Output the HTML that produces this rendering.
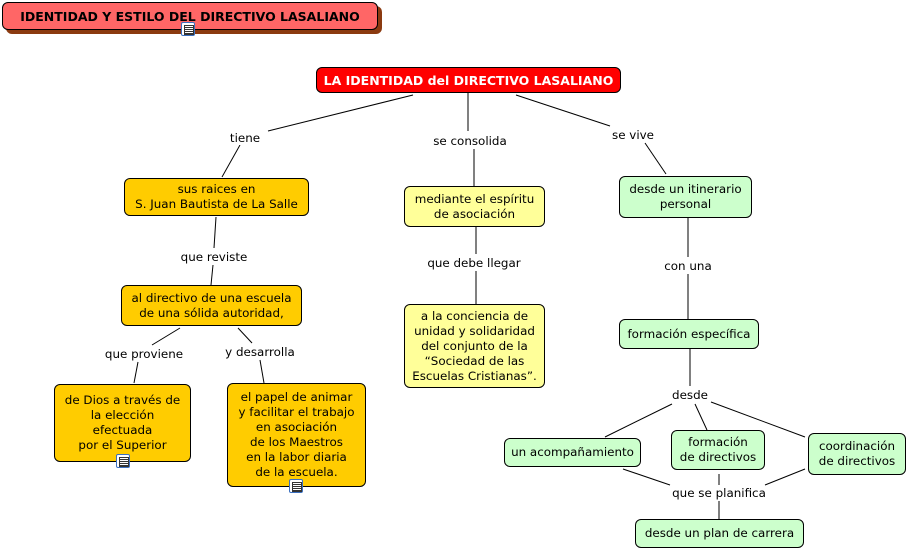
<!DOCTYPE html>
<html><head><meta charset="utf-8"><style>
body{margin:0;width:908px;height:549px;background:#fff;position:relative;overflow:hidden;font-family:"DejaVu Sans","Liberation Sans",sans-serif;font-size:11.9px;color:#000}
.n{position:absolute;box-sizing:border-box;border:1px solid #000;border-radius:6px;display:flex;align-items:center;justify-content:center;text-align:center;line-height:15px}
.g{background:#ffcc00}.y{background:#ffff99}.v{background:#ccffcc}
.l{position:absolute;background:#fff;white-space:nowrap;transform:translate(-50%,-50%);padding:0 2px;line-height:14px}
.ic{position:absolute;width:14px;height:14px;border:1px solid #3a6fc0;border-radius:2px;background:#fff;box-sizing:border-box}
.ic:after{content:"";position:absolute;left:2px;top:2px;width:8px;height:8px;border:1px solid #333;background:repeating-linear-gradient(#fff 0 1px,#333 1px 2px)}
</style></head><body>
<div style="position:absolute;left:6px;top:6px;width:376px;height:28px;background:#8b3a10;border-radius:6px"></div>
<div class="n" style="left:2px;top:2px;width:376px;height:28px;background:#ff6666;font-weight:bold;font-size:12.5px">IDENTIDAD Y ESTILO DEL DIRECTIVO LASALIANO</div>
<div class="ic" style="left:181px;top:22px;border-color:#3a6fc0"></div>
<svg style="position:absolute;left:0;top:0" width="908" height="549" stroke="#000" stroke-width="1">
<line x1="413" y1="95" x2="268" y2="131"/><line x1="240" y1="145" x2="222" y2="177"/>
<line x1="468" y1="92" x2="468" y2="131"/><line x1="474" y1="149" x2="474" y2="186"/>
<line x1="516" y1="95" x2="610" y2="126"/><line x1="645" y1="143" x2="666" y2="174"/>
<line x1="216" y1="217" x2="214" y2="248"/><line x1="213" y1="265" x2="211" y2="285"/>
<line x1="476" y1="227" x2="476" y2="254"/><line x1="476" y1="271" x2="476" y2="304"/>
<line x1="688" y1="218" x2="688" y2="257"/><line x1="688" y1="274" x2="688" y2="319"/>
<line x1="180" y1="328" x2="152" y2="345"/><line x1="138" y1="362" x2="134" y2="383"/>
<line x1="238" y1="328" x2="252" y2="343"/><line x1="260" y1="360" x2="264" y2="383"/>
<line x1="690" y1="349" x2="690" y2="386"/>
<line x1="672" y1="404" x2="605" y2="437"/><line x1="695" y1="404" x2="707" y2="430"/><line x1="711" y1="402" x2="805" y2="437"/>
<line x1="623" y1="469" x2="670" y2="485"/><line x1="719" y1="474" x2="719" y2="485"/><line x1="805" y1="469" x2="765" y2="485"/>
<line x1="719" y1="501" x2="719" y2="519"/>
</svg>
<div class="n" style="left:316px;top:67px;width:305px;height:26px;background:#ff0000;color:#fff;font-weight:bold;font-size:12.5px">LA IDENTIDAD del DIRECTIVO LASALIANO</div>
<div class="n g" style="left:124px;top:178px;width:185px;height:38px">sus raices en<br>S. Juan Bautista de La Salle</div>
<div class="n y" style="left:404px;top:186px;width:141px;height:41px">mediante el espíritu<br>de asociación</div>
<div class="n v" style="left:619px;top:176px;width:133px;height:42px">desde un itinerario<br>personal</div>
<div class="n g" style="left:121px;top:285px;width:181px;height:41px">al directivo de una escuela<br>de una sólida autoridad,</div>
<div class="n y" style="left:404px;top:304px;width:141px;height:84px">a la conciencia de<br>unidad y solidaridad<br>del conjunto de la<br>“Sociedad de las<br>Escuelas Cristianas”.</div>
<div class="n v" style="left:619px;top:319px;width:140px;height:30px">formación específica</div>
<div class="n g" style="left:54px;top:384px;width:137px;height:78px">de Dios a través de<br>la elección<br>efectuada<br>por el Superior</div>
<div class="n g" style="left:227px;top:383px;width:139px;height:104px">el papel de animar<br>y facilitar el trabajo<br>en asociación<br>de los Maestros<br>en la labor diaria<br>de la escuela.</div>
<div class="ic" style="left:116px;top:454px"></div>
<div class="ic" style="left:289px;top:479px"></div>
<div class="n v" style="left:504px;top:438px;width:137px;height:29px">un acompañamiento</div>
<div class="n v" style="left:671px;top:430px;width:94px;height:40px">formación<br>de directivos</div>
<div class="n v" style="left:808px;top:433px;width:98px;height:42px">coordinación<br>de directivos</div>
<div class="n v" style="left:635px;top:519px;width:169px;height:29px">desde un plan de carrera</div>
<div class="l" style="left:245px;top:138px">tiene</div>
<div class="l" style="left:470px;top:141px">se consolida</div>
<div class="l" style="left:633px;top:135px">se vive</div>
<div class="l" style="left:214px;top:257px">que reviste</div>
<div class="l" style="left:474px;top:263px">que debe llegar</div>
<div class="l" style="left:688px;top:266px">con una</div>
<div class="l" style="left:144px;top:354px">que proviene</div>
<div class="l" style="left:260px;top:352px">y desarrolla</div>
<div class="l" style="left:690px;top:395px">desde</div>
<div class="l" style="left:719px;top:493px">que se planifica</div>
</body></html>
